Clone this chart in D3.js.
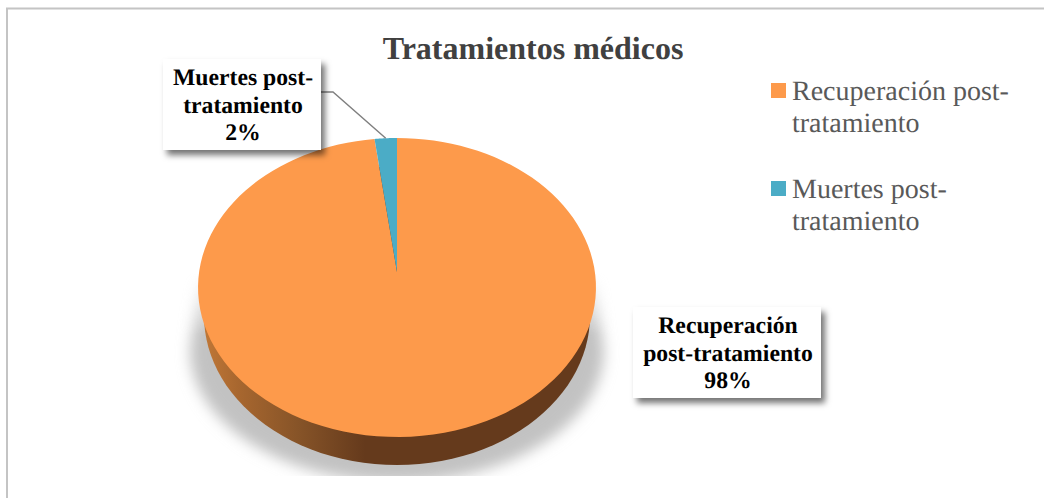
<!DOCTYPE html>
<html>
<head>
<meta charset="utf-8">
<script src="https://cdn.jsdelivr.net/npm/d3@7"></script>
<style>
  html, body { margin: 0; padding: 0; background: #fff; }
  svg { display: block; }
  text { font-family: "Liberation Serif", serif; text-rendering: geometricPrecision; }
</style>
</head>
<body>
<svg id="chart" width="1044" height="498"></svg>
<script>
  var categories = ['Recuperación post-tratamiento', 'Muertes post-tratamiento'];
  var values = [98, 2];
  var colors = ['#fd9a4b', '#4bacc6'];
  var legendLines = [['Recuperación post-', 'tratamiento'], ['Muertes post-', 'tratamiento']];
  var labelLines = [['Recuperación', 'post-tratamiento', '98%'], ['Muertes post-', 'tratamiento', '2%']];

  var svg = d3.select('#chart');
  var defs = svg.append('defs');

  // tilted disc: unit circle through a perspective map
  var persp = {a: 119.7, b: 272, c: -0.1037, d: 197.9, cx: 397};
  function toScreen(ux, uy, dy) {
    var w = 1 + persp.c * uy;
    return [persp.cx + persp.d * ux / w, (persp.a * uy + persp.b) / w + (dy || 0)];
  }
  function project(angle, dy) {
    return toScreen(Math.sin(angle), -Math.cos(angle), dy);
  }
  var line = d3.line();
  function rimPoints(a0, a1, dy) {
    return d3.range(0, 121).map(function(i) { return project(a0 + (a1 - a0) * i / 120, dy); });
  }

  var slices = d3.pie().sort(null)(values);
  var depth = 28;

  // frame
  svg.append('path')
    .attr('d', 'M7,498V8.5H1044')
    .attr('fill', 'none').attr('stroke', '#c4c4c4').attr('stroke-width', 2);

  // shadow under the disc
  defs.append('filter').attr('id', 'blurShadow')
    .attr('x', '-20%').attr('y', '-20%').attr('width', '140%').attr('height', '140%')
    .append('feGaussianBlur').attr('stdDeviation', 7);
  defs.append('clipPath').attr('id', 'shadowClip')
    .append('rect').attr('x', 150).attr('y', 270).attr('width', 500).attr('height', 206);
  var fade = defs.append('linearGradient').attr('id', 'shadowFade')
    .attr('gradientUnits', 'userSpaceOnUse').attr('x1', 0).attr('x2', 0).attr('y1', 272).attr('y2', 335);
  fade.append('stop').attr('offset', 0).attr('stop-color', '#000');
  fade.append('stop').attr('offset', 1).attr('stop-color', '#fff');
  defs.append('mask').attr('id', 'shadowMask').attr('maskUnits', 'userSpaceOnUse')
    .attr('x', 150).attr('y', 260).attr('width', 500).attr('height', 225)
    .append('rect').attr('x', 150).attr('y', 260).attr('width', 500).attr('height', 225).attr('fill', 'url(#shadowFade)');
  svg.append('g').attr('clip-path', 'url(#shadowClip)').attr('mask', 'url(#shadowMask)')
    .append('path')
    .attr('d', 'M201,270L190,350A207,132 0 0 0 604,350L593,270Z')
    .attr('fill', '#c2c2c2').attr('filter', 'url(#blurShadow)');

  // side wall: the lower rim sits a bit narrower than the top face
  var wall = defs.append('linearGradient').attr('id', 'wallFill')
    .attr('gradientUnits', 'userSpaceOnUse').attr('x1', 198).attr('x2', 596).attr('y1', 0).attr('y2', 0);
  [[0, '#c47a38'], [0.1, '#a8672f'], [0.25, '#875428'], [0.42, '#653a1c'], [1, '#653a1c']].forEach(function(s) {
    wall.append('stop').attr('offset', s[0]).attr('stop-color', s[1]);
  });
  var lowerRim = rimPoints(0, Math.PI * 2, depth).map(function(p) {
    return [persp.cx + (p[0] - persp.cx) * 0.97, p[1]];
  });
  svg.append('path')
    .attr('d', line(lowerRim) + 'Z')
    .attr('fill', 'url(#wallFill)');

  // top face
  var apex = toScreen(0, 0);
  svg.append('g').selectAll('path')
    .data(slices)
    .join('path')
    .attr('d', function(d) {
      return line([apex].concat(rimPoints(d.startAngle, d.endAngle))) + 'Z';
    })
    .attr('fill', function(d, i) { return colors[i]; });

  // title
  svg.append('text')
    .attr('x', 533).attr('y', 59)
    .attr('text-anchor', 'middle')
    .attr('font-size', 32).attr('font-weight', 'bold')
    .attr('fill', '#404040')
    .text('Tratamientos médicos');

  // leader line
  var leadEnd = project((slices[1].startAngle + slices[1].endAngle) / 2);
  svg.append('path')
    .attr('d', line([[321, 92], [333, 92], leadEnd]))
    .attr('fill', 'none').attr('stroke', '#7f7f7f').attr('stroke-width', 1.4);

  // data labels
  defs.append('filter').attr('id', 'boxShadow')
    .attr('x', '-10%').attr('y', '-10%').attr('width', '125%').attr('height', '130%')
    .append('feDropShadow')
    .attr('dx', 4).attr('dy', 5).attr('stdDeviation', 3)
    .attr('flood-color', '#000').attr('flood-opacity', 0.55);

  var labelBoxes = [
    {x: 633, y: 307, w: 188, h: 91, line0: 333},
    {x: 163, y: 59, w: 158, h: 91, line0: 85}
  ];
  labelBoxes.forEach(function(b, i) {
    svg.append('rect')
      .attr('x', b.x).attr('y', b.y).attr('width', b.w).attr('height', b.h)
      .attr('fill', '#fff').attr('filter', 'url(#boxShadow)');
    svg.append('g').selectAll('text')
      .data(labelLines[i])
      .join('text')
      .attr('x', b.x + b.w / 2 + 1)
      .attr('y', function(d, j) { return b.line0 + j * 27.7; })
      .attr('text-anchor', 'middle')
      .attr('font-size', 23.7).attr('font-weight', 'bold')
      .attr('fill', '#000')
      .text(function(d) { return d; });
  });

  // legend
  var legendY = [91, 189];
  categories.forEach(function(c, i) {
    svg.append('rect')
      .attr('x', 771).attr('y', legendY[i] - 8).attr('width', 15).attr('height', 15)
      .attr('fill', colors[i]);
    svg.append('g').selectAll('text')
      .data(legendLines[i])
      .join('text')
      .attr('x', 792)
      .attr('y', function(d, j) { return legendY[i] + 9 + j * 32; })
      .attr('font-size', 28)
      .attr('fill', '#595959')
      .text(function(d) { return d; });
  });
</script>
</body>
</html>
